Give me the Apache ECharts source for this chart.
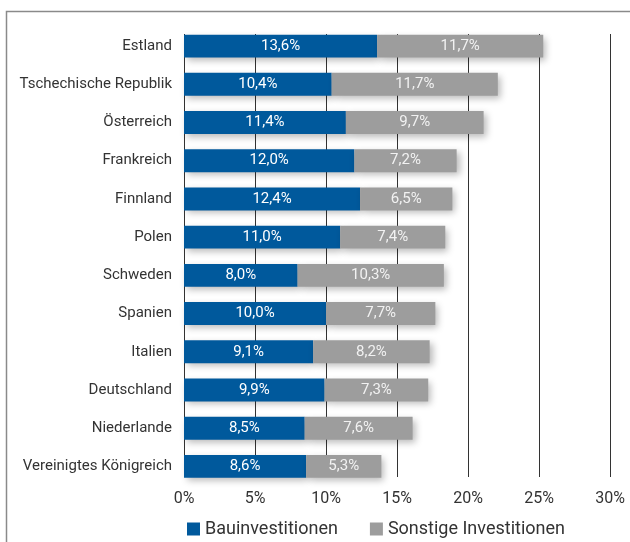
<!DOCTYPE html>
<html>
<head>
<meta charset="utf-8">
<script src="https://cdn.jsdelivr.net/npm/echarts@6/dist/echarts.min.js"></script>
<style>
html,body{margin:0;padding:0;background:#fff;}
#chart{width:630px;height:542px;}
</style>
</head>
<body>
<div id="chart"></div>
<script>
const categories = ["Estland","Tschechische Republik","Österreich","Frankreich","Finnland","Polen","Schweden","Spanien","Italien","Deutschland","Niederlande","Vereinigtes Königreich"];
const bauinvestitionen = [13.6,10.4,11.4,12.0,12.4,11.0,8.0,10.0,9.1,9.9,8.5,8.6];
const sonstigeInvestitionen = [11.7,11.7,9.7,7.2,6.5,7.4,10.3,7.7,8.2,7.3,7.6,5.3];
const xTicks = [0,5,10,15,20,25,30];

const FONT = 'Roboto';
const fmt = v => v.toFixed(1).replace('.', ',') + '%';
const shadow = {shadowColor:'rgba(0,0,0,0.28)', shadowBlur:7, shadowOffsetX:3, shadowOffsetY:3};

const chart = echarts.init(document.getElementById('chart'));
chart.setOption({
  animation:false,
  textStyle:{fontFamily:FONT},
  graphic:[{type:'rect', shape:{x:6.5,y:11.5,width:700,height:600}, style:{fill:'none',stroke:'#8a8a8a',lineWidth:1.5}, z:-1}],
  legend:{
    left:182, top:515, itemWidth:13, itemHeight:13, itemGap:32,
    icon:'rect',
    textStyle:{fontFamily:FONT,fontSize:18,color:'#333'},
    data:['Bauinvestitionen','Sonstige Investitionen']
  },
  grid:[
    {left:184, right:20, top:27, height:458.5},
    {left:184, right:20, top:34, height:443}
  ],
  xAxis:[
    {gridIndex:0, type:'value', min:xTicks[0], max:xTicks[xTicks.length-1], interval:5,
     axisLine:{show:false}, axisTick:{show:false}, splitLine:{show:false},
     axisLabel:{formatter:'{value}%', fontFamily:FONT, fontSize:16, color:'#333', margin:5}},
    {gridIndex:1, type:'value', min:xTicks[0], max:xTicks[xTicks.length-1], interval:5,
     axisLine:{show:false}, axisTick:{show:false}, axisLabel:{show:false},
     splitLine:{show:true, lineStyle:{color:'#333', width:1}}}
  ],
  yAxis:[
    {gridIndex:0, type:'category', data:categories, inverse:true,
     axisLine:{show:false}, axisTick:{show:false},
     axisLabel:{fontFamily:FONT, fontSize:15, color:'#333', margin:12}},
    {gridIndex:1, type:'category', data:categories, show:false}
  ],
  series:[
    {name:'Bauinvestitionen', type:'bar', stack:'a', xAxisIndex:0, yAxisIndex:0, barWidth:'60%',
     data:bauinvestitionen,
     itemStyle:Object.assign({color:'#00599c'}, shadow),
     label:{show:true, position:'inside', color:'#fff', fontFamily:FONT, fontSize:15,
       formatter:p=>fmt(p.value)}},
    {name:'Sonstige Investitionen', type:'bar', stack:'a', xAxisIndex:0, yAxisIndex:0, barWidth:'60%',
     data:sonstigeInvestitionen,
     itemStyle:Object.assign({color:'#9d9d9d'}, shadow),
     label:{show:true, position:'inside', color:'#f2f2f2', fontFamily:FONT, fontSize:15,
       formatter:p=>fmt(p.value)}}
  ]
});
</script>
</body>
</html>
